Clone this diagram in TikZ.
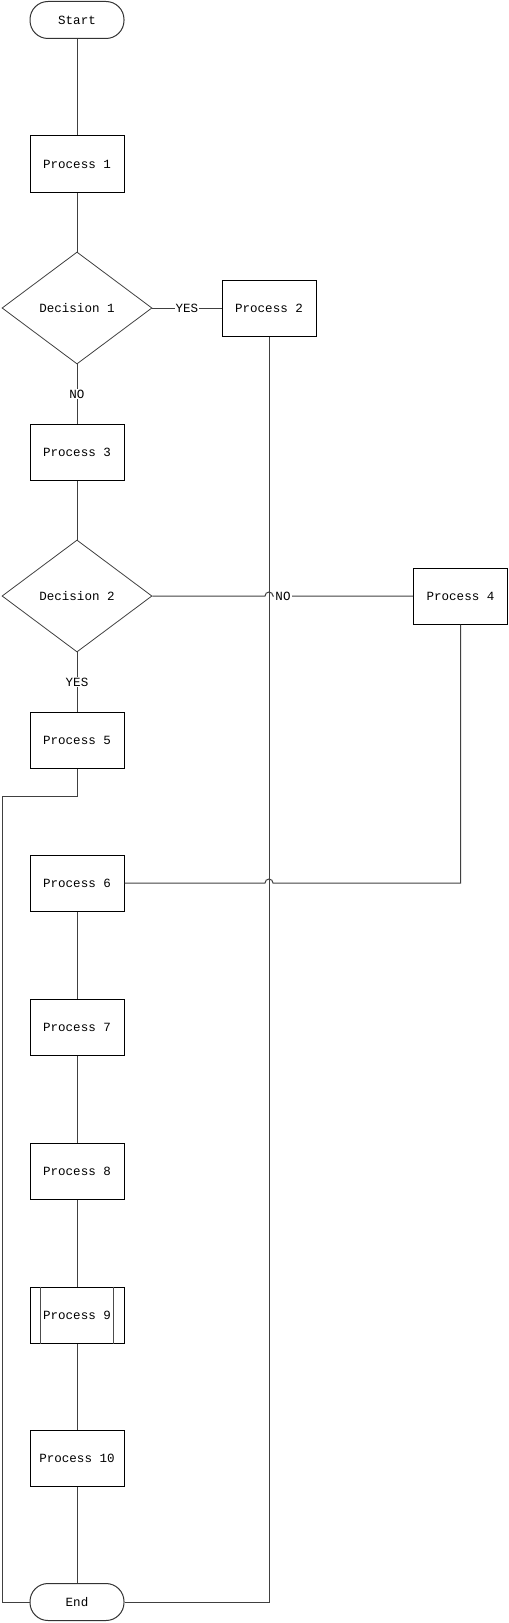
\documentclass[tikz,border=0pt]{standalone}
\usepackage{fontspec}
\setmainfont{Liberation Mono}
\usetikzlibrary{shapes.geometric}
\begin{document}
\begin{tikzpicture}[x=0.75pt,y=-0.75pt,
  every node/.style={font=\fontsize{9.4pt}{11pt}\selectfont},
  proc/.style={draw=black,line width=0.75pt,rectangle,minimum width=70.5pt,minimum height=42pt,inner sep=0pt},
  term/.style={draw=black!80,line width=0.75pt,rectangle,rounded corners=13.5pt,minimum width=70.5pt,minimum height=27.75pt,inner sep=0pt},
  dec/.style={draw=black!75,line width=0.6pt,diamond,minimum width=112.5pt,minimum height=84pt,inner sep=0pt},
  conn/.style={draw=black!75,line width=0.75pt},
  lbl/.style={fill=white,inner sep=0.8pt}]
\useasboundingbox (0,0) rectangle (509,1623);
\node[term] (start) at (77,20) {Start};
\node[proc] (p1) at (77,164) {Process 1};
\node[dec] (d1) at (77,308) {Decision 1};
\node[proc] (p2) at (269,308) {Process 2};
\node[proc] (p3) at (77,452) {Process 3};
\node[dec] (d2) at (77,596) {Decision 2};
\node[proc] (p4) at (460.5,596) {Process 4};
\node[proc] (p5) at (77,740) {Process 5};
\node[proc] (p6) at (77,883) {Process 6};
\node[proc] (p7) at (77,1027) {Process 7};
\node[proc] (p8) at (77,1171) {Process 8};
\node[proc] (p9) at (77,1315) {Process 9};
\node[proc] (p10) at (77,1458) {Process 10};
\node[term] (end) at (77,1602) {End};
% inner bars of predefined process
\draw[black!70,line width=0.75pt] ([xshift=8.25pt]p9.north west) -- ([xshift=8.25pt]p9.south west);
\draw[black!70,line width=0.75pt] ([xshift=-8.25pt]p9.north east) -- ([xshift=-8.25pt]p9.south east);
% coordinates
\coordinate (a1) at (77,796);
\coordinate (a2) at (2,796);
\coordinate (a3) at (2,1602);
\coordinate (j1) at (265,596);
\coordinate (j2) at (273,883);
\coordinate (c4) at (460.5,883);
\coordinate (c2) at (269,1602);
% connectors
\draw[conn] (start) -- (p1);
\draw[conn] (p1) -- (d1);
\draw[conn] (d1.east) -- (p2.west) node[lbl,pos=0.5] {YES};
\draw[conn] (d1.south) -- (p3.north) node[lbl,pos=0.5] {NO};
\draw[conn] (p3) -- (d2);
\draw[conn] (p2.south) -- (c2) -- (end.east);
\draw[conn] (d2.east) -- (j1) arc (180:360:4) -- (p4.west);
\node[lbl] (no2) at (283,596) {NO};
\draw[conn] (d2.south) -- (p5.north) node[lbl,pos=0.5] {YES};
\draw[conn] (p5.south) -- (a1) -- (a2) -- (a3) -- (end.west);
\draw[conn] (p4.south) -- (c4) -- (j2) arc (0:-180:4) -- (p6.east);
\draw[conn] (p6) -- (p7);
\draw[conn] (p7) -- (p8);
\draw[conn] (p8) -- (p9);
\draw[conn] (p9) -- (p10);
\draw[conn] (p10) -- (end);
\end{tikzpicture}
\end{document}
